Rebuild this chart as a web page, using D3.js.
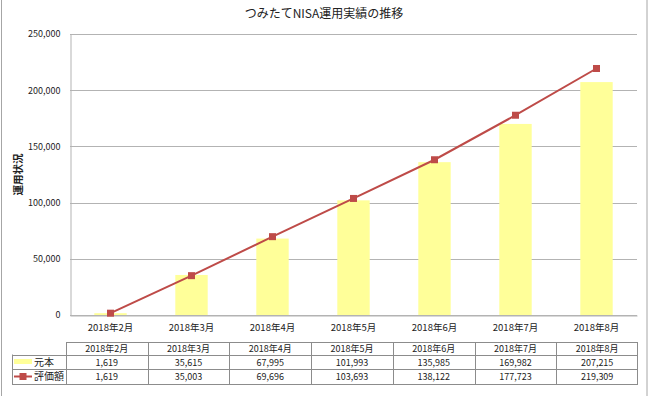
<!DOCTYPE html>
<html>
<head>
<meta charset="utf-8">
<script src="https://cdn.jsdelivr.net/npm/d3@7"></script>
<style>
  body { margin: 0; background: #fff; }
  text { font-family: "Noto Sans CJK JP", "Noto Sans", sans-serif; fill: #222; }
</style>
</head>
<body>
<div id="chart"></div>
<script>
var months = ["2018年2月", "2018年3月", "2018年4月", "2018年5月", "2018年6月", "2018年7月", "2018年8月"];
var principal = [1619, 35615, 67995, 101993, 135985, 169982, 207215];
var valuation = [1619, 35003, 69696, 103693, 138122, 177723, 219309];
var yTicks = [0, 50000, 100000, 150000, 200000, 250000];
var seriesNames = ["元本", "評価額"];

var W = 649, H = 396;
var plotL = 70, plotR = 637, plotT = 34, plotB = 315;
var barColor = "#ffff99", lineColor = "#be4b48", gridColor = "#b3b3b3";

var svg = d3.select("#chart").append("svg")
    .attr("width", W).attr("height", H);

// outer frame
svg.append("rect")
    .attr("x", 1.5).attr("y", -1).attr("width", 645.5).attr("height", H + 2)
    .attr("fill", "none").attr("stroke", "#a6a6a6");

svg.append("text")
    .attr("x", 324).attr("y", 18)
    .attr("text-anchor", "middle")
    .style("font-size", "12px")
    .text("つみたてNISA運用実績の推移");

var x = d3.scaleBand().domain(months).range([plotL, plotR]);
var y = d3.scaleLinear().domain([0, 250000]).range([plotB, plotT]);
var fmt = d3.format(",");

// gridlines
svg.append("g").selectAll("line").data(yTicks).join("line")
    .attr("x1", plotL).attr("x2", plotR)
    .attr("y1", d => Math.round(y(d)) + 0.5).attr("y2", d => Math.round(y(d)) + 0.5)
    .attr("stroke", gridColor);

// y axis
var yAxis = svg.append("g")
    .attr("transform", "translate(" + (plotL + 0.5) + ",0)")
    .call(d3.axisLeft(y).tickValues(yTicks).tickSize(0).tickPadding(10).tickFormat(fmt));
yAxis.select(".domain").attr("stroke", gridColor);
yAxis.selectAll("text").style("font-size", "9px").style("fill", "#222");

svg.append("text")
    .attr("transform", "translate(22," + ((plotT + plotB) / 2) + ") rotate(-90)")
    .attr("text-anchor", "middle")
    .style("font-size", "10.5px").style("font-weight", "bold")
    .text("運用状況");

// bars
var bw = x.bandwidth() * 0.4;
svg.append("g").selectAll("rect").data(principal).join("rect")
    .attr("x", (d, i) => x(months[i]) + x.bandwidth() / 2 - bw / 2)
    .attr("width", bw)
    .attr("y", d => y(d))
    .attr("height", d => y(0) - y(d))
    .attr("fill", barColor);

// x axis
var xAxis = svg.append("g")
    .attr("transform", "translate(0," + (plotB + 0.5) + ")")
    .call(d3.axisBottom(x).tickSize(0).tickPadding(9));
xAxis.select(".domain").attr("stroke", gridColor);
xAxis.selectAll("text").style("font-size", "9.5px").style("fill", "#222");

// line
var line = d3.line()
    .x((d, i) => x(months[i]) + x.bandwidth() / 2)
    .y(d => y(d));
svg.append("path").datum(valuation)
    .attr("d", line)
    .attr("fill", "none").attr("stroke", lineColor).attr("stroke-width", 2);
svg.append("g").selectAll("rect").data(valuation).join("rect")
    .attr("x", (d, i) => x(months[i]) + x.bandwidth() / 2 - 3.5)
    .attr("y", d => y(d) - 3.5)
    .attr("width", 7).attr("height", 7)
    .attr("fill", lineColor);

// data table
var tx = d3.scaleBand().domain(months).range([66, 638]);
var tLeft = 12, rowY = [342, 354.5, 369, 384];
var tbl = svg.append("g");
var tStroke = "#8c8c8c";

tbl.append("line").attr("x1", 66).attr("x2", 638).attr("y1", rowY[0] + 0.5).attr("y2", rowY[0] + 0.5).attr("stroke", tStroke);
[1, 2, 3].forEach(function (r) {
  tbl.append("line").attr("x1", tLeft).attr("x2", 638)
      .attr("y1", Math.round(rowY[r]) + 0.5).attr("y2", Math.round(rowY[r]) + 0.5).attr("stroke", tStroke);
});
tbl.append("line").attr("x1", tLeft + 0.5).attr("x2", tLeft + 0.5).attr("y1", rowY[1]).attr("y2", rowY[3]).attr("stroke", tStroke);
months.forEach(function (m) {
  tbl.append("line").attr("x1", Math.round(tx(m)) + 0.5).attr("x2", Math.round(tx(m)) + 0.5)
      .attr("y1", rowY[0]).attr("y2", rowY[3]).attr("stroke", tStroke);
});
tbl.append("line").attr("x1", 637.5).attr("x2", 637.5).attr("y1", rowY[0]).attr("y2", rowY[3]).attr("stroke", tStroke);

tbl.selectAll("text.h").data(months).join("text")
    .attr("x", d => tx(d) + tx.bandwidth() / 2).attr("y", 352)
    .attr("text-anchor", "middle").style("font-size", "9px").text(d => d);

[principal, valuation].forEach(function (vals, r) {
  tbl.selectAll("text.r" + r).data(vals).join("text")
      .attr("x", (d, i) => tx(months[i]) + tx.bandwidth() / 2)
      .attr("y", rowY[r + 1] + 11)
      .attr("text-anchor", "middle").style("font-size", "9px")
      .text(d => fmt(d));
});

// legend keys
tbl.append("rect").attr("x", 14).attr("y", 359).attr("width", 18).attr("height", 5).attr("fill", barColor);
tbl.append("line").attr("x1", 14).attr("x2", 32).attr("y1", 376.5).attr("y2", 376.5)
    .attr("stroke", lineColor).attr("stroke-width", 2);
tbl.append("rect").attr("x", 19.5).attr("y", 373).attr("width", 7).attr("height", 7).attr("fill", lineColor);
tbl.selectAll("text.n").data(seriesNames).join("text")
    .attr("x", 34).attr("y", (d, i) => rowY[i + 1] + 11)
    .style("font-size", "10px").text(d => d);
</script>
</body>
</html>
